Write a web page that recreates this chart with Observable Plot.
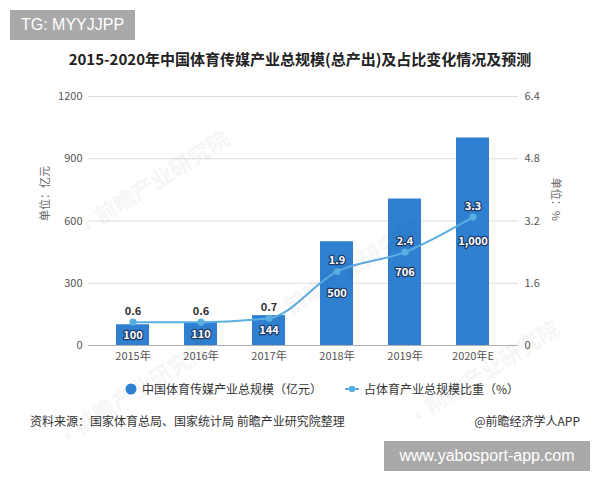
<!DOCTYPE html>
<html>
<head>
<meta charset="utf-8">
<script src="https://cdn.jsdelivr.net/npm/d3@7"></script>
<script src="https://cdn.jsdelivr.net/npm/@observablehq/plot@0.6"></script>
<style>
  html, body { margin: 0; padding: 0; background: #fff; }
  #wrap { position: relative; width: 600px; height: 480px; overflow: hidden; font-family: "Noto Sans CJK SC", "Noto Sans", sans-serif; }
  #chart { position: absolute; left: 0; top: 0; }
  .abs { position: absolute; white-space: nowrap; }
  #tg { left: 10px; top: 10px; width: 125px; height: 30px; background: #a9a9a9; color: #fff; font: 16px "Liberation Sans", Arial, sans-serif; line-height: 30px; text-align: center; }
  #site { left: 384px; top: 441px; width: 206px; height: 30px; background: #a9a9a9; color: #fff; font: 16px "Liberation Sans", Arial, sans-serif; line-height: 30px; text-align: center; }
  #title { left: 0; width: 600px; top: 48px; text-align: center; font-weight: bold; font-size: 15px; color: #222; line-height: 22px; }
  #legend { top: 380px; left: 124px; font-size: 12px; color: #333; line-height: 18px; display: flex; align-items: center; }
  .lg-item { display: flex; align-items: center; }
  #src { left: 30px; top: 412px; font-size: 12px; color: #333; line-height: 18px; }
  #app { right: 20px; top: 412px; font-size: 12px; color: #333; line-height: 18px; }
  .wm { position: absolute; color: #000; opacity: 0.03; font-size: 22px; font-weight: bold; transform: rotate(-32deg); transform-origin: left center; white-space: nowrap; }
</style>
</head>
<body>
<div id="wrap">
  <div id="chart"></div>
  <div class="wm" style="left:80px; top:210px;">◖ 前瞻产业研究院</div>
  <div class="wm" style="left:270px; top:300px;">◖ 前瞻产业研究院</div>
  <div class="wm" style="left:410px; top:400px;">◖ 前瞻产业研究院</div>
  <div class="wm" style="left:60px; top:420px;">◖ 前瞻产业研究院</div>
  <div id="tg" class="abs">TG: MYYJJPP</div>
  <div id="title" class="abs">2015-2020年中国体育传媒产业总规模(总产出)及占比变化情况及预测</div>
  <div id="legend" class="abs">
    <div class="lg-item">
      <svg width="14" height="14"><circle cx="7" cy="7" r="5.5" fill="#2f80d1"></circle></svg>
      <span style="margin-left:4px;">中国体育传媒产业总规模（亿元）</span>
    </div>
    <div class="lg-item" style="margin-left:22px;">
      <svg width="16" height="14"><line x1="1" y1="7" x2="15" y2="7" stroke="#5aaee0" stroke-width="2"></line><circle cx="8" cy="7" r="3.2" fill="#5aaee0"></circle></svg>
      <span style="margin-left:4px;">占体育产业总规模比重（%）</span>
    </div>
  </div>
  <div id="src" class="abs">资料来源：国家体育总局、国家统计局 前瞻产业研究院整理</div>
  <div id="app" class="abs">@前瞻经济学人APP</div>
  <div id="site" class="abs">www.yabosport-app.com</div>
</div>
<script>
// ---- data ----
const years = ["2015年", "2016年", "2017年", "2018年", "2019年", "2020年E"];
const mediaSize = [100, 110, 144, 500, 706, 1000];      // 亿元
const mediaShare = [0.6, 0.6, 0.7, 1.9, 2.4, 3.3];       // %
const leftTicks = [0, 300, 600, 900, 1200];
const rightMax = 6.4;
const leftMax = 1200;

const ratio = leftMax / rightMax; // maps % onto the left value scale
const data = years.map((y, i) => ({year: y, size: mediaSize[i], share: mediaShare[i]}));
const fmt = d3.format(",");
const labelOutside = d => d.share * ratio + 60 > d.size;

const barColor = "#2f80d1";
const lineColor = "#5aaee0";

const chart = Plot.plot({
  width: 600,
  height: 480,
  marginTop: 96,
  marginBottom: 135,
  marginLeft: 88,
  marginRight: 82,
  style: {fontFamily: '"Noto Sans CJK SC", "Noto Sans", sans-serif', fontSize: "11px", color: "#555", background: "transparent"},
  x: {domain: years, paddingInner: 0.52, paddingOuter: 0.26, insetLeft: 8, insetRight: 9},
  y: {domain: [0, leftMax]},
  marks: [
    Plot.gridY(leftTicks.filter(t => t > 0), {stroke: "#dcdcdc", strokeOpacity: 1}),
    Plot.ruleY([0], {stroke: "#b0b0b0", strokeWidth: 1}),
    Plot.axisY({anchor: "left", ticks: leftTicks, tickSize: 0, tickPadding: 6, label: null, tickFormat: d => String(d)}),
    Plot.axisY({anchor: "right", ticks: leftTicks, tickSize: 0, tickPadding: 6, label: null,
      tickFormat: d => d === 0 ? "0" : (d / ratio).toFixed(1)}),
    Plot.axisX({tickSize: 0, tickPadding: 7, label: null}),
    Plot.barY(data, {x: "year", y: "size", fill: barColor}),
    Plot.text(data, {x: "year", y: d => d.size / 2, text: d => fmt(d.size),
      fill: "white", stroke: "#1f3c68", strokeWidth: 2.5, fontWeight: "bold", fontSize: 11}),
    Plot.line(data, {x: "year", y: d => d.share * ratio, curve: "monotone-x", stroke: lineColor, strokeWidth: 2}),
    Plot.dot(data, {x: "year", y: d => d.share * ratio, r: 3.6, fill: lineColor}),
    Plot.text(data.filter(labelOutside), {x: "year", y: d => d.share * ratio, text: d => d.share.toFixed(1), dy: -11,
      fill: "#333", stroke: "white", strokeWidth: 2, fontWeight: "bold", fontSize: 11}),
    Plot.text(data.filter(d => !labelOutside(d)), {x: "year", y: d => d.share * ratio, text: d => d.share.toFixed(1), dy: -11,
      fill: "white", stroke: "#1f3c68", strokeWidth: 2.5, fontWeight: "bold", fontSize: 11}),
    Plot.text(["单位：亿元"], {frameAnchor: "left", dx: -43, rotate: -90, fill: "#666", fontSize: 11}),
    Plot.text(["单位：%"], {frameAnchor: "right", dx: 37, rotate: 90, fill: "#666", fontSize: 11})
  ]
});
document.getElementById("chart").appendChild(chart);
</script>
</body>
</html>
